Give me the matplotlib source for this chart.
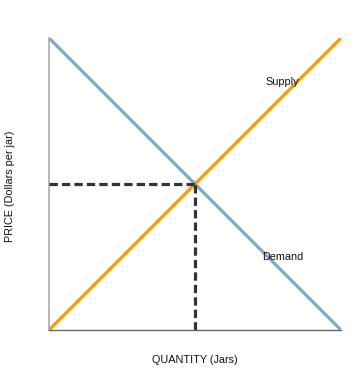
import matplotlib.pyplot as plt
import numpy as np

plt.rcParams['font.family'] = ['Liberation Sans', 'DejaVu Sans']

# supply and demand curves (price vs quantity)
quantity = [0, 10]
demand_price = [10, 0]
supply_price = [0, 10]
eq_q = 5
eq_p = 5

fig = plt.figure(figsize=(3.62, 3.81), dpi=100)
ax = fig.add_axes([49/362, 51/381, 292/362, 292/381])

ax.plot(quantity, demand_price, color='#7fa9cf', lw=2.3, solid_capstyle='butt', zorder=2)
ax.plot(quantity, supply_price, color='#f39c12', lw=2.3, solid_capstyle='butt', zorder=2)

# equilibrium guides
ax.plot([0, eq_q + 0.1], [eq_p, eq_p], color='#333333', lw=2.3, ls=(0, (2.6, 1.3)), zorder=3)
ax.plot([eq_q, eq_q], [0, eq_p + 0.1], color='#333333', lw=2.3, ls=(0, (2.6, 1.3)), zorder=3)

ax.text(8.0, 8.5, 'Supply', fontsize=7.8, ha='center', va='center', color='#111111')
ax.text(8.0, 2.5, 'Demand', fontsize=7.8, ha='center', va='center', color='#111111')

ax.set_xlim(0, 10)
ax.set_ylim(0, 10)
ax.set_xticks([])
ax.set_yticks([])
for s in ['top', 'right']:
    ax.spines[s].set_visible(False)
ax.spines['left'].set_color('#aaaaaa')
ax.spines['bottom'].set_color('#666666')
ax.spines['left'].set_linewidth(1.2)
ax.spines['bottom'].set_linewidth(1.0)

fig.text(195/362, 1 - 360/381, 'QUANTITY (Jars)', fontsize=7.8, ha='center', va='center', color='#111111')
fig.text(10/362, 1 - 186/381, 'PRICE (Dollars per jar)', fontsize=7.8, ha='center', va='center', rotation=90, color='#111111')

fig.savefig('out.png', dpi=100)
